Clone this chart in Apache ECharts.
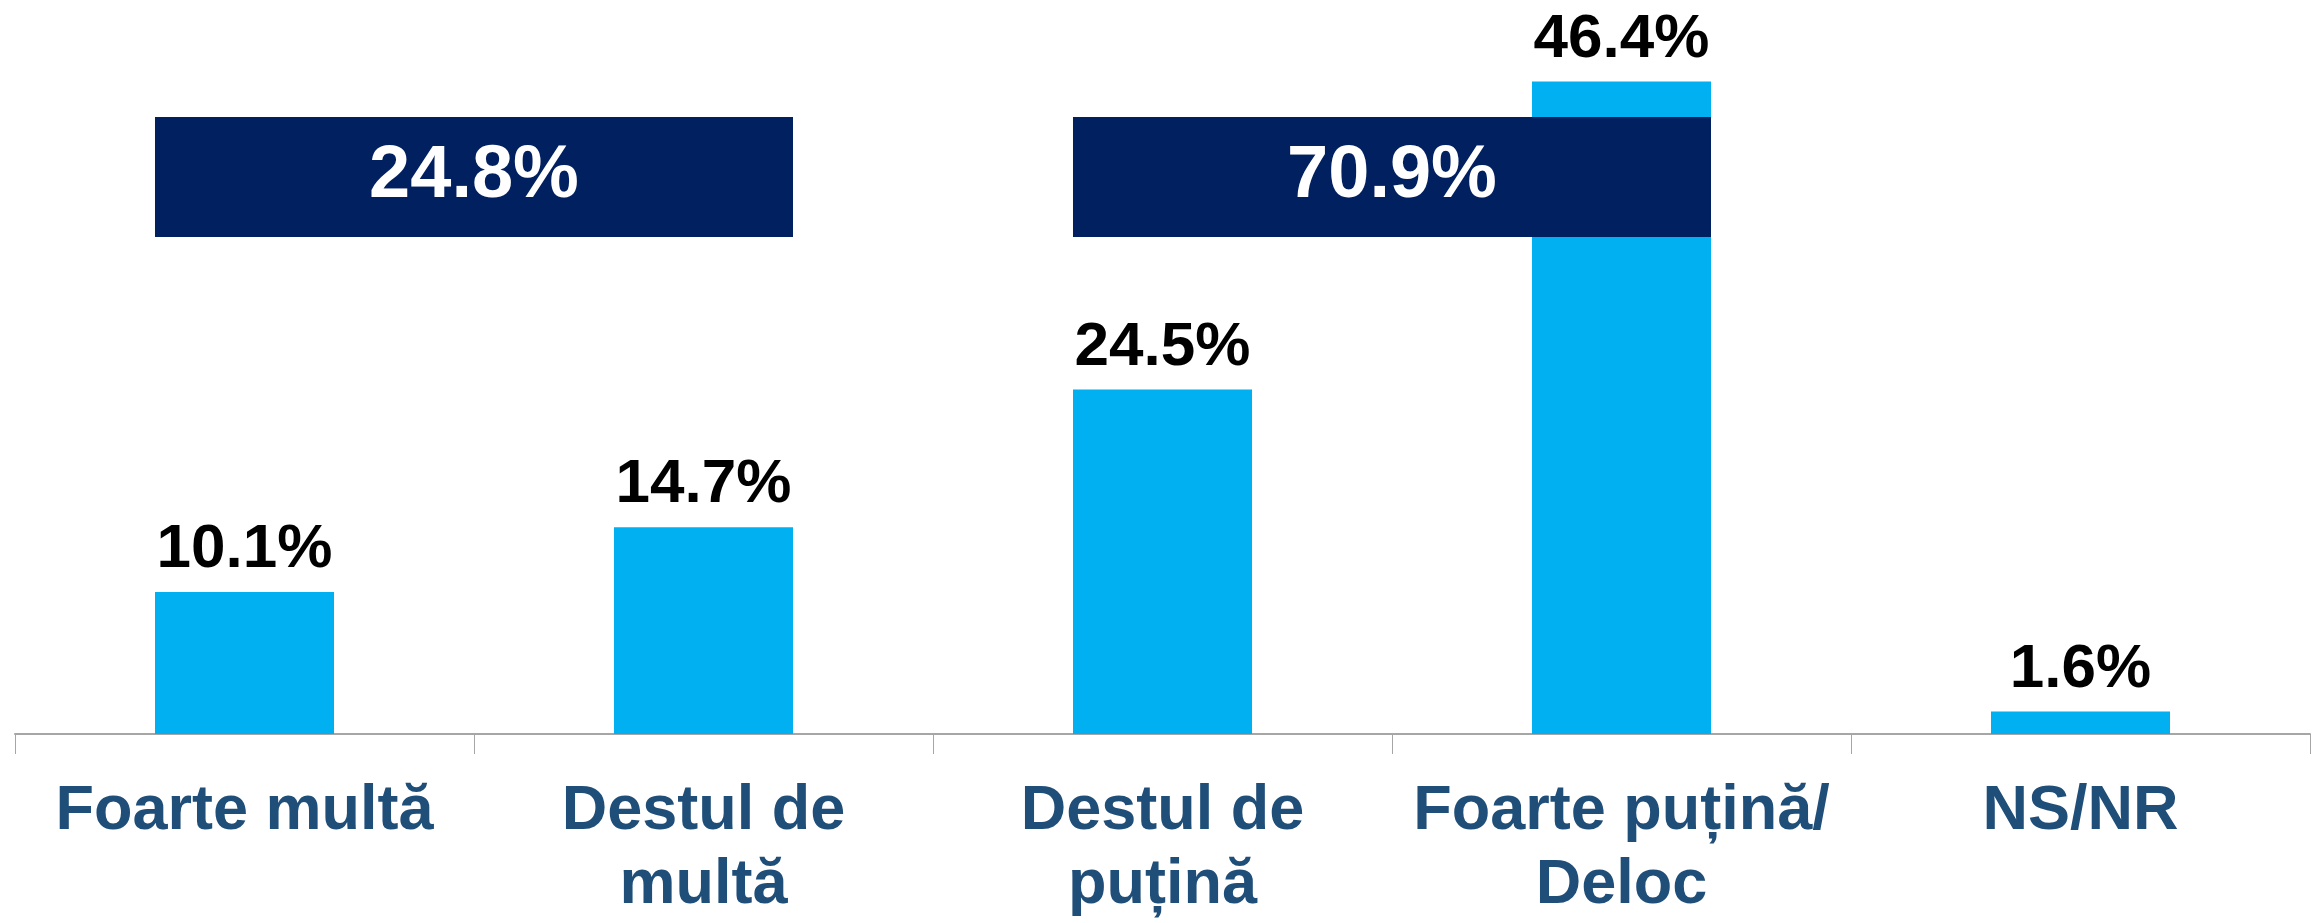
<!DOCTYPE html>
<html>
<head>
<meta charset="utf-8">
<script src="https://cdn.jsdelivr.net/npm/echarts@6/dist/echarts.min.js"></script>
<style>
html,body{margin:0;padding:0;background:#fff;}
#chart{width:2320px;height:923px;}
</style>
</head>
<body>
<div id="chart"></div>
<script>
const categories = ['Foarte multă', 'Destul de\nmultă', 'Destul de\npuțină', 'Foarte puțină/\nDeloc', 'NS/NR'];
const values = [10.1, 14.7, 24.5, 46.4, 1.6];
const groupStart = [0, 2];
const groupEnd = [1, 3];
const groupTotals = [24.8, 70.9];

const FONT = '"Liberation Sans", Arial, sans-serif';
const BAR_FRAC = 0.39;

const chart = echarts.init(document.getElementById('chart'), null, {renderer: 'canvas'});
chart.setOption({
  animation: false,
  backgroundColor: '#ffffff',
  grid: {left: 15, right: 10, top: 31, bottom: 187, containLabel: false},
  xAxis: {
    type: 'category',
    data: categories,
    boundaryGap: true,
    axisLine: {show: true, lineStyle: {color: '#A6A6A6', width: 2}},
    axisTick: {show: true, length: 20, lineStyle: {color: '#A6A6A6', width: 1}},
    axisLabel: {
      interval: 0,
      margin: 41,
      color: '#1F4E79',
      fontFamily: FONT,
      fontWeight: 'bold',
      fontSize: 63,
      lineHeight: 74
    }
  },
  yAxis: {
    type: 'value', min: 0, max: 50, show: false,
    splitLine: {show: false}
  },
  series: [
    {
      type: 'bar',
      data: values,
      barWidth: (BAR_FRAC * 100) + '%',
      itemStyle: {color: '#00B0F0'},
      label: {
        show: true,
        position: 'top',
        distance: 11,
        color: '#000000',
        fontFamily: FONT,
        fontWeight: 'bold',
        fontSize: 62,
        formatter: p => p.value.toFixed(1) + '%'
      },
      z: 2
    },
    {
      type: 'custom',
      data: groupTotals.map((v, i) => [groupStart[i], groupEnd[i], v]),
      encode: {x: [0, 1]},
      z: 5,
      renderItem: function (params, api) {
        const s = api.value(0), e = api.value(1), v = api.value(2);
        const bw = api.size([1, 0])[0] * BAR_FRAC;
        const x0 = api.coord([s, 0])[0] - bw / 2;
        const x1 = api.coord([e, 0])[0] + bw / 2;
        const y0 = 117, y1 = 237;
        return {
          type: 'group',
          children: [
            {type: 'rect', shape: {x: x0, y: y0, width: x1 - x0, height: y1 - y0},
             style: {fill: '#002060'}},
            {type: 'text', style: {
              x: (x0 + x1) / 2, y: (y0 + y1) / 2,
              text: v.toFixed(1) + '%',
              fill: '#ffffff',
              font: 'bold 74px ' + FONT,
              align: 'center', verticalAlign: 'middle'
            }}
          ]
        };
      }
    }
  ]
});
</script>
</body>
</html>
